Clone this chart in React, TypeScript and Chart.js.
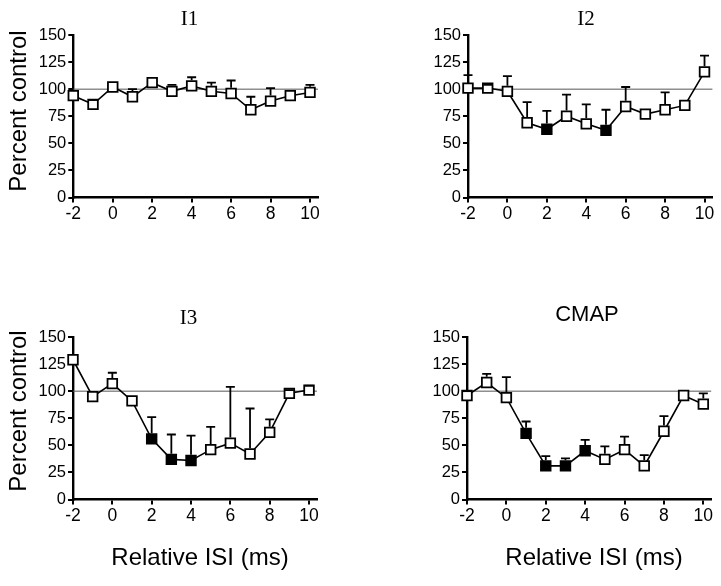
import React, { useEffect, useRef } from "react";
import { Chart, registerables } from "chart.js";

Chart.register(...registerables);

// ---------- data ----------
const X_VALUES = [-2, -1, 0, 1, 2, 3, 4, 5, 6, 7, 8, 9, 10];
const X_MIN = -2;
const X_MAX = 10.4;
const X_STEP = 2;
const Y_MIN = 0;
const Y_MAX = 150;
const Y_STEP = 25;
const CONTROL_LEVEL = 100;

const I1_MEAN = [94, 86, 102, 93, 106, 98, 103, 98, 96, 81, 89, 94, 97];
const I1_UPPER = [null, 90, null, 100, null, 104, 111, 106, 108, 93, 101, null, 104];
const I1_FILLED: number[] = [];

const I2_MEAN = [101, 101, 98, 69, 63, 75, 68, 62, 84, 77, 81, 85, 116];
const I2_UPPER = [113, 104, 112, 88, 80, 95, 86, 81, 102, null, 97, null, 131];
const I2_FILLED = [2, 5];

const I3_MEAN = [129, 95, 107, 91, 56, 37, 36, 46, 52, 42, 62, 98, 101];
const I3_UPPER = [null, null, 117, null, 76, 60, 59, 67, 104, 84, 74, 101, 105];
const I3_FILLED = [2, 3, 4];

const CMAP_MEAN = [96, 108, 94, 61, 31, 31, 45, 37, 46, 31, 63, 96, 88];
const CMAP_UPPER = [100, 116, 113, 72, 40, 38, 55, 49, 58, 41, 77, null, 98];
const CMAP_FILLED = [1, 2, 3, 4];

const Y_TITLE = "Percent control";
const X_TITLE = "Relative ISI (ms)";

// ---------- styling ----------
const SANS = "'Liberation Sans', Arial, Helvetica, sans-serif";
const SERIF = "'Liberation Serif', 'Times New Roman', serif";
const MARKER_RADIUS = 6.8;
const MARKER_BORDER = 1.8;
const CAP_WIDTH = 9;

Chart.defaults.font.family = SANS;
Chart.defaults.color = "#000";

type TextItem = { text: string; x: number; y: number; font: string; rotate?: boolean };

const errorBarPlugin = {
  id: "errorBars",
  afterDatasetsDraw(chart: any) {
    const { ctx } = chart;
    const xs = chart.scales.x;
    const ys = chart.scales.y;
    chart.data.datasets.forEach((ds: any) => {
      if (!ds.errorUpper) return;
      ctx.save();
      ctx.strokeStyle = "#000";
      ctx.lineWidth = 1.8;
      ds.data.forEach((p: any, i: number) => {
        const up = ds.errorUpper[i];
        if (up == null) return;
        const px = xs.getPixelForValue(p.x);
        const py = ys.getPixelForValue(p.y);
        const pu = ys.getPixelForValue(up);
        const half = MARKER_RADIUS * Math.SQRT1_2 + MARKER_BORDER / 2;
        ctx.beginPath();
        if (pu < py - half) {
          ctx.moveTo(px, py - half);
          ctx.lineTo(px, pu);
        }
        ctx.moveTo(px - CAP_WIDTH / 2, pu);
        ctx.lineTo(px + CAP_WIDTH / 2, pu);
        ctx.stroke();
      });
      ctx.restore();
    });
  },
};

const textPlugin = {
  id: "panelText",
  afterDraw(chart: any, _args: any, opts: any) {
    const { ctx } = chart;
    (opts.items || []).forEach((it: TextItem) => {
      ctx.save();
      ctx.fillStyle = "#000";
      ctx.font = it.font;
      ctx.textAlign = "center";
      ctx.textBaseline = "middle";
      ctx.translate(it.x, it.y);
      if (it.rotate) ctx.rotate(-Math.PI / 2);
      ctx.fillText(it.text, 0, 0);
      ctx.restore();
    });
  },
};

type Box = { left: number; top: number; width: number; height: number };
type Area = { left: number; top: number; right: number; bottom: number };
type PanelSpec = {
  title: string;
  mean: number[];
  upper: (number | null)[];
  filled: number[];
  box: Box;
  area: Area;
  texts: TextItem[];
};

const PANELS: PanelSpec[] = [
  {
    title: "I1",
    mean: I1_MEAN,
    upper: I1_UPPER,
    filled: I1_FILLED,
    box: { left: 0, top: 0, width: 360, height: 290 },
    area: { left: 73.3, top: 35, right: 317.9, bottom: 197.5 },
    texts: [
      { text: "I1", x: 189.5, y: 19, font: `21px ${SERIF}` },
      { text: Y_TITLE, x: 19, y: 111, font: `24px ${SANS}`, rotate: true },
    ],
  },
  {
    title: "I2",
    mean: I2_MEAN,
    upper: I2_UPPER,
    filled: I2_FILLED,
    box: { left: 360, top: 0, width: 361, height: 290 },
    area: { left: 108, top: 35, right: 352.9, bottom: 197.5 },
    texts: [{ text: "I2", x: 226, y: 19, font: `21px ${SERIF}` }],
  },
  {
    title: "I3",
    mean: I3_MEAN,
    upper: I3_UPPER,
    filled: I3_FILLED,
    box: { left: 0, top: 290, width: 360, height: 296 },
    area: { left: 73, top: 47, right: 316.9, bottom: 209.5 },
    texts: [
      { text: "I3", x: 188.5, y: 28, font: `21px ${SERIF}` },
      { text: Y_TITLE, x: 19, y: 121, font: `24px ${SANS}`, rotate: true },
      { text: X_TITLE, x: 200, y: 268, font: `24px ${SANS}` },
    ],
  },
  {
    title: "CMAP",
    mean: CMAP_MEAN,
    upper: CMAP_UPPER,
    filled: CMAP_FILLED,
    box: { left: 360, top: 290, width: 361, height: 296 },
    area: { left: 107, top: 47, right: 351.2, bottom: 209.5 },
    texts: [
      { text: "CMAP", x: 227, y: 25, font: `22px ${SANS}` },
      { text: X_TITLE, x: 234, y: 268, font: `24px ${SANS}` },
    ],
  },
];

function Panel({ spec }: { spec: PanelSpec }) {
  const ref = useRef<HTMLCanvasElement>(null);
  useEffect(() => {
    const { box, area } = spec;
    const points = X_VALUES.map((x, i) => ({ x, y: spec.mean[i] }));
    const fills = X_VALUES.map((x) => (spec.filled.includes(x) ? "#000" : "#fff"));
    const chart = new Chart(ref.current as HTMLCanvasElement, {
      type: "line",
      data: {
        datasets: [
          {
            label: "control",
            data: [
              { x: X_MIN, y: CONTROL_LEVEL },
              { x: X_MAX, y: CONTROL_LEVEL },
            ],
            borderColor: "#555",
            borderWidth: 1,
            pointRadius: 0,
            order: 2,
            clip: false,
          } as any,
          {
            label: spec.title,
            data: points,
            borderColor: "#000",
            borderWidth: 1.6,
            pointStyle: "rect",
            pointRadius: MARKER_RADIUS,
            pointBorderWidth: MARKER_BORDER,
            pointBackgroundColor: fills,
            pointBorderColor: "#000",
            order: 1,
            clip: false,
            errorUpper: spec.upper,
          } as any,
        ],
      },
      options: {
        animation: false,
        responsive: false,
        maintainAspectRatio: false,
        events: [],
        layout: {
          padding: { left: 0, top: area.top, right: box.width - area.right, bottom: 0 },
        },
        plugins: {
          legend: { display: false },
          tooltip: { enabled: false },
          title: { display: false },
          panelText: { items: spec.texts },
        } as any,
        scales: {
          x: {
            type: "linear",
            min: X_MIN,
            max: X_MAX,
            ticks: {
              stepSize: X_STEP,
              includeBounds: false,
              font: { size: 17.5, family: SANS },
              color: "#000",
              padding: 1,
            },
            grid: {
              display: true,
              drawOnChartArea: false,
              drawTicks: true,
              tickLength: 5,
              color: "#000",
              lineWidth: 2,
            },
            border: { display: true, color: "#000", width: 2.4 },
            afterFit: (s: any) => {
              s.height = box.height - area.bottom;
              s.paddingLeft = 0;
              s.paddingRight = 0;
            },
          },
          y: {
            type: "linear",
            min: Y_MIN,
            max: Y_MAX,
            ticks: {
              stepSize: Y_STEP,
              font: { size: 16.5, family: SANS },
              color: "#000",
              padding: 2,
            },
            grid: {
              display: true,
              drawOnChartArea: false,
              drawTicks: true,
              tickLength: 5,
              color: "#000",
              lineWidth: 2,
            },
            border: { display: true, color: "#000", width: 2.4 },
            afterFit: (s: any) => {
              s.width = area.left;
              s.paddingTop = 0;
              s.paddingBottom = 0;
            },
          },
        },
      } as any,
      plugins: [errorBarPlugin, textPlugin],
    });
    return () => chart.destroy();
  }, [spec]);
  const { box } = spec;
  return (
    <canvas
      ref={ref}
      width={box.width}
      height={box.height}
      style={{ position: "absolute", left: box.left, top: box.top, width: box.width, height: box.height }}
    />
  );
}

export default function App() {
  return (
    <div
      style={{
        position: "absolute",
        left: 0,
        top: 0,
        width: 721,
        height: 586,
        background: "#fff",
        overflow: "hidden",
      }}
    >
      {PANELS.map((p) => (
        <Panel key={p.title} spec={p} />
      ))}
    </div>
  );
}
